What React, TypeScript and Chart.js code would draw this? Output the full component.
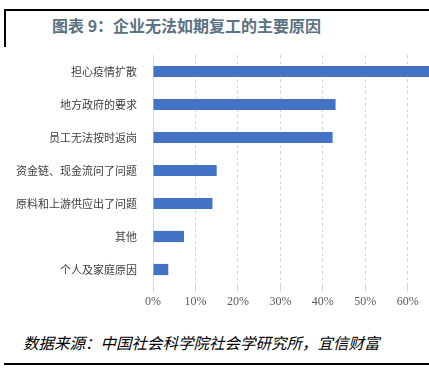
import React, { useEffect, useRef } from "react";
import { Chart, registerables } from "chart.js";

Chart.register(...registerables);

const categories = [
  "担心疫情扩散",
  "地方政府的要求",
  "员工无法按时返岗",
  "资金链、现金流问了问题",
  "原料和上游供应出了问题",
  "其他",
  "个人及家庭原因",
];
const values = [65, 43, 42.3, 15, 14, 7.3, 3.6];
const tickValues = [0, 10, 20, 30, 40, 50, 60];

export default function App() {
  const ref = useRef<HTMLCanvasElement | null>(null);

  useEffect(() => {
    if (!ref.current) return;
    const chart = new Chart(ref.current, {
      type: "bar",
      data: {
        labels: categories,
        datasets: [
          {
            data: values,
            backgroundColor: "#4472c4",
            borderWidth: 0,
            barPercentage: 0.34,
            categoryPercentage: 1,
          },
        ],
      },
      options: {
        indexAxis: "y",
        animation: false,
        responsive: false,
        maintainAspectRatio: false,
        layout: { padding: { top: 15, right: 0, left: 0, bottom: 0 } },
        plugins: { legend: { display: false }, tooltip: { enabled: false } },
        scales: {
          x: {
            min: 0,
            max: 65,
            ticks: {
              stepSize: 10,
              padding: 3,
              color: "#595959",
              font: { family: "'Liberation Serif', serif", size: 12 },
              callback: (v: any) => v + "%",
            },
            afterBuildTicks: (scale: any) => {
              scale.ticks = tickValues.map((v) => ({ value: v }));
            },
            afterFit: (scale: any) => {
              scale.height = 34;
            },
            grid: {
              color: "#d4d4d4",
              tickColor: "#d4d4d4",
              tickLength: 6,
              lineWidth: 1,
            },
            border: { display: false, dash: [3, 3] },
          },
          y: {
            ticks: {
              padding: 8,
              color: "#404040",
              font: { family: "'Noto Sans CJK SC', sans-serif", size: 11 },
            },
            afterFit: (scale: any) => {
              scale.width = 153;
            },
            grid: { display: false },
            border: { display: true, color: "#d9d9d9" },
          },
        },
      },
    });
    return () => chart.destroy();
  }, []);

  return (
    <div
      style={{
        position: "absolute",
        left: 0,
        top: 0,
        width: 429,
        height: 370,
        background: "#fff",
        overflow: "hidden",
      }}
    >
      <div style={{ position: "absolute", left: 4, top: 9, width: 425, height: 2, background: "#000" }} />
      <div style={{ position: "absolute", left: 4, top: 9, width: 2, height: 38, background: "#000" }} />
      <div
        style={{
          position: "absolute",
          left: 52,
          top: 14,
          fontFamily: "'Noto Sans CJK SC', sans-serif",
          fontWeight: 700,
          fontSize: 16,
          lineHeight: "22px",
          color: "#5a7282",
          whiteSpace: "nowrap",
        }}
      >
        图表 9：企业无法如期复工的主要原因
      </div>
      <canvas
        ref={ref}
        width={429}
        height={280}
        style={{ position: "absolute", left: 0, top: 40, width: 429, height: 280 }}
      />
      <div
        style={{
          position: "absolute",
          left: 23,
          top: 331,
          fontFamily: "'Noto Sans CJK SC', sans-serif",
          fontStyle: "italic",
          fontSize: 15.5,
          lineHeight: "22px",
          color: "#000",
          whiteSpace: "nowrap",
        }}
      >
        数据来源：中国社会科学院社会学研究所，宜信财富
      </div>
      <div style={{ position: "absolute", left: 4, top: 363, width: 425, height: 2, background: "#000" }} />
    </div>
  );
}
